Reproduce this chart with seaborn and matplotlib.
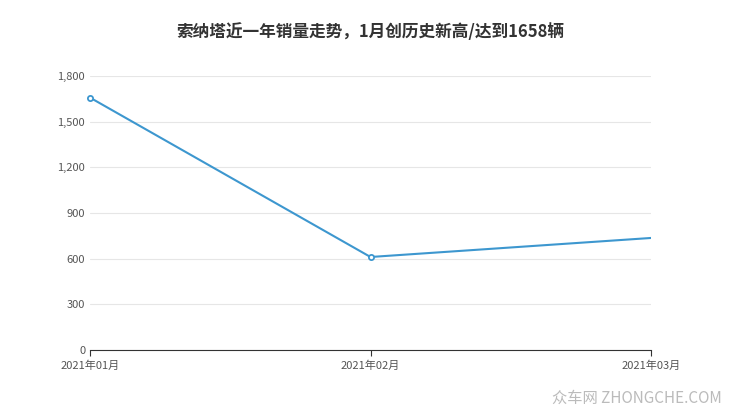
import matplotlib
matplotlib.use('Agg')
import matplotlib.pyplot as plt
import seaborn as sns
import pandas as pd

months = ['2021年01月', '2021年02月', '2021年03月']
sales = [1658, 611, 736]
y_ticks = [0, 300, 600, 900, 1200, 1500, 1800]

sns.set_style('white')
plt.rcParams['font.family'] = ['Noto Sans CJK SC', 'DejaVu Sans']

df = pd.DataFrame({'month': months, 'sales': sales, 'x': range(len(months))})

fig = plt.figure(figsize=(7.4, 4.17), dpi=100)
ax = fig.add_axes([90 / 740, 1 - 350 / 417, 561 / 740, 274 / 417])

sns.lineplot(data=df, x='x', y='sales', color='#3d97cf', linewidth=1.5, ax=ax)
# маркеры только на первых двух точках, как в оригинале
ax.scatter(df['x'][:2], df['sales'][:2], s=14, facecolor='white',
           edgecolor='#3d97cf', linewidth=1.3, zorder=5, clip_on=False)

ax.set_xlim(0, 2)
ax.set_ylim(0, 1800)
ax.set_xticks(df['x'])
ax.set_xticklabels(months, fontsize=8, color='#555555')
ax.set_yticks(y_ticks)
ax.set_yticklabels([f'{v:,}' for v in y_ticks], fontsize=8, color='#555555')
ax.grid(axis='y', color='#e6e6e6', linewidth=0.8)
ax.set_xlabel('')
ax.set_ylabel('')
for side in ['top', 'right', 'left']:
    ax.spines[side].set_visible(False)
ax.spines['bottom'].set_color('#333333')
ax.tick_params(axis='x', length=4, color='#333333', bottom=True)
ax.tick_params(axis='y', length=0)

fig.text(0.5, 1 - 32 / 417, '索纳塔近一年销量走势，1月创历史新高/达到1658辆',
         ha='center', va='center', fontsize=12, fontweight='bold', color='#333333')
fig.text(0.975, 1 - 398 / 417, '众车网 ZHONGCHE.COM', ha='right', va='center',
         fontsize=11, color='#bbbbbb')

fig.savefig('out.png', dpi=100)
